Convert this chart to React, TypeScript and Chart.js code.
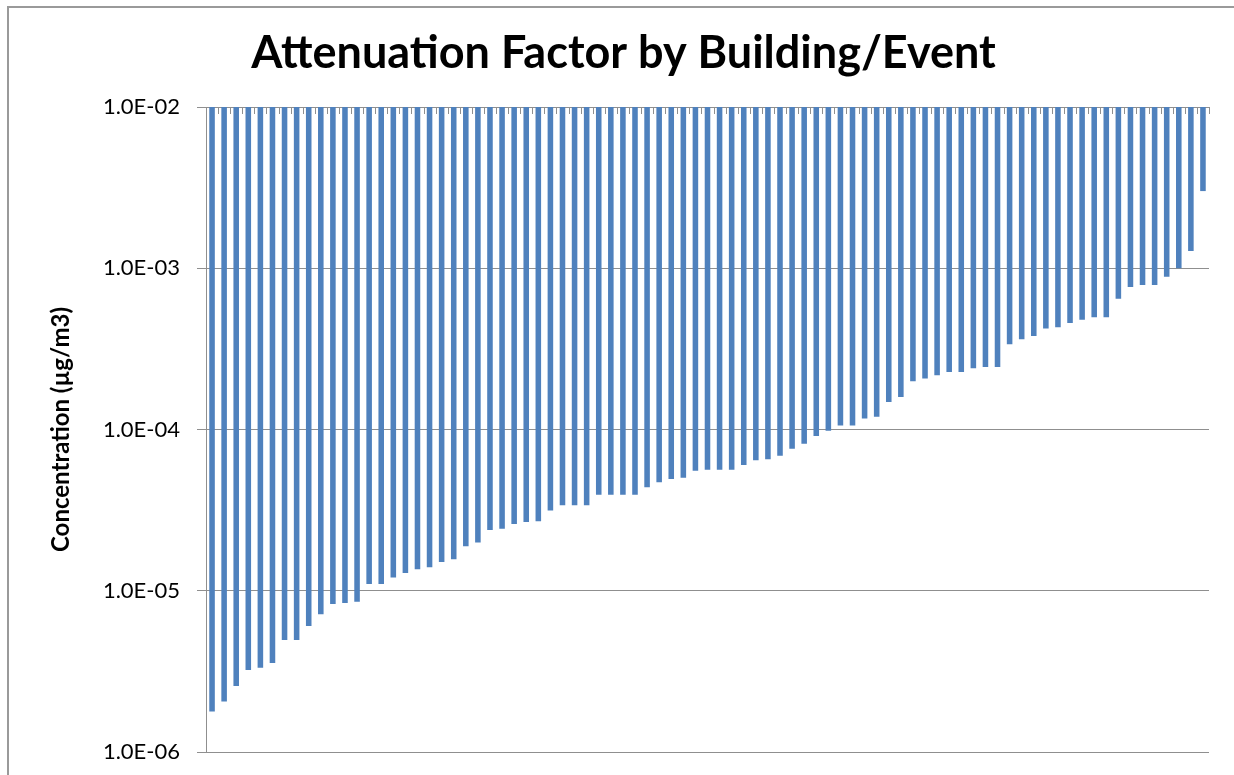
import React, { useEffect, useRef } from "react";
import { Chart, registerables } from "chart.js";

Chart.register(...registerables);

const TITLE = "Attenuation Factor by Building/Event";
const Y_TITLE = "Concentration (µg/m3)";
const BAR_TOP = 1e-2;
const Y_MIN = 1e-6;
const Y_TICKS = [1e-6, 1e-5, 1e-4, 1e-3, 1e-2];

// attenuation factor per building/event, sorted ascending
const VALUES = [
  1.78e-6, 2.06e-6, 2.57e-6, 3.23e-6, 3.33e-6, 3.56e-6, 4.95e-6, 4.95e-6, 6.04e-6, 7.14e-6,
  8.28e-6, 8.4e-6, 8.56e-6, 1.1e-5, 1.1e-5, 1.21e-5, 1.29e-5, 1.36e-5, 1.4e-5, 1.51e-5,
  1.57e-5, 1.89e-5, 1.99e-5, 2.38e-5, 2.42e-5, 2.59e-5, 2.67e-5, 2.7e-5, 3.15e-5, 3.39e-5,
  3.39e-5, 3.39e-5, 3.94e-5, 3.94e-5, 3.94e-5, 3.94e-5, 4.38e-5, 4.71e-5, 4.93e-5, 5.02e-5,
  5.55e-5, 5.63e-5, 5.63e-5, 5.63e-5, 6.03e-5, 6.44e-5, 6.53e-5, 6.88e-5, 7.6e-5, 8.17e-5,
  9.11e-5, 9.84e-5, 1.06e-4, 1.06e-4, 1.17e-4, 1.2e-4, 1.48e-4, 1.59e-4, 1.99e-4, 2.07e-4,
  2.17e-4, 2.27e-4, 2.27e-4, 2.4e-4, 2.44e-4, 2.44e-4, 3.38e-4, 3.63e-4, 3.8e-4, 4.23e-4,
  4.3e-4, 4.57e-4, 4.8e-4, 4.97e-4, 4.97e-4, 6.48e-4, 7.65e-4, 7.87e-4, 7.87e-4, 8.86e-4,
  1.0e-3, 1.28e-3, 3.01e-3,
];

const CATEGORIES = VALUES.map((_, i) => `Building/Event ${i + 1}`);

const BAR_COLOR = "#4f81bd";
const GRID_COLOR = "#8f8f8f";

function sci(v: number): string {
  const e = Math.round(Math.log10(v));
  const sign = e < 0 ? "-" : "+";
  return `1.0E${sign}${String(Math.abs(e)).padStart(2, "0")}`;
}

const categoryTicks = {
  id: "categoryTicks",
  afterDatasetsDraw(chart: any) {
    const xs = chart.scales.x;
    const top = chart.chartArea.top;
    const n = chart.data.labels.length;
    const ctx = chart.ctx;
    ctx.save();
    ctx.strokeStyle = GRID_COLOR;
    ctx.lineWidth = 1;
    ctx.beginPath();
    for (let i = 0; i <= n; i++) {
      const px = Math.round(xs.getPixelForValue(i - 0.5)) + 0.5;
      ctx.moveTo(px, top);
      ctx.lineTo(px, top + 7);
    }
    ctx.stroke();
    ctx.restore();
  },
};

export default function App() {
  const canvasRef = useRef<HTMLCanvasElement | null>(null);

  useEffect(() => {
    if (!canvasRef.current) return;
    const chart = new Chart(canvasRef.current, {
      type: "bar",
      data: {
        labels: CATEGORIES,
        datasets: [
          {
            data: VALUES.map((v) => [v, BAR_TOP]) as any,
            backgroundColor: BAR_COLOR,
            borderWidth: 0,
            barPercentage: 0.46,
            categoryPercentage: 1,
          },
        ],
      },
      options: {
        responsive: false,
        animation: false,
        layout: { padding: { left: 38, right: 25, top: 0, bottom: 23 } },
        plugins: {
          legend: { display: false },
          tooltip: { enabled: false },
          title: {
            display: true,
            text: TITLE,
            color: "#000",
            font: { family: "Lato", size: 45, weight: "bold" },
            padding: { top: 26, bottom: 27 },
          },
        },
        scales: {
          x: {
            type: "category",
            display: false,
            offset: true,
          },
          y: {
            type: "logarithmic",
            min: Y_MIN,
            max: BAR_TOP,
            afterBuildTicks: (s: any) => {
              s.ticks = Y_TICKS.map((v) => ({ value: v }));
            },
            afterFit: (s: any) => {
              s.width = 168;
              s.paddingBottom = 12;
              s.paddingTop = 12;
            },
            ticks: {
              callback: (v: any) => sci(Number(v)),
              color: "#000",
              font: { family: "Lato", size: 22 },
              padding: 17,
            },
            grid: { color: GRID_COLOR, tickColor: GRID_COLOR, tickLength: 9 },
            border: { color: GRID_COLOR },
            title: {
              display: true,
              text: Y_TITLE,
              color: "#000",
              font: { family: "Lato", size: 24, weight: "bold" },
              padding: { top: 9, bottom: 0 },
            },
          },
        },
      },
      plugins: [categoryTicks],
    });
    return () => chart.destroy();
  }, []);

  return (
    <div style={{ position: "fixed", left: 0, top: 0, width: 1234, height: 775, overflow: "hidden", background: "#fff" }}>
      <div
        style={{
          position: "absolute",
          left: 7,
          top: 6,
          width: 1300,
          height: 900,
          border: "2px solid #9a9a9a",
          boxSizing: "border-box",
        }}
      />
      <canvas ref={canvasRef} width={1234} height={775} style={{ position: "absolute", left: 0, top: 0 }} />
    </div>
  );
}
